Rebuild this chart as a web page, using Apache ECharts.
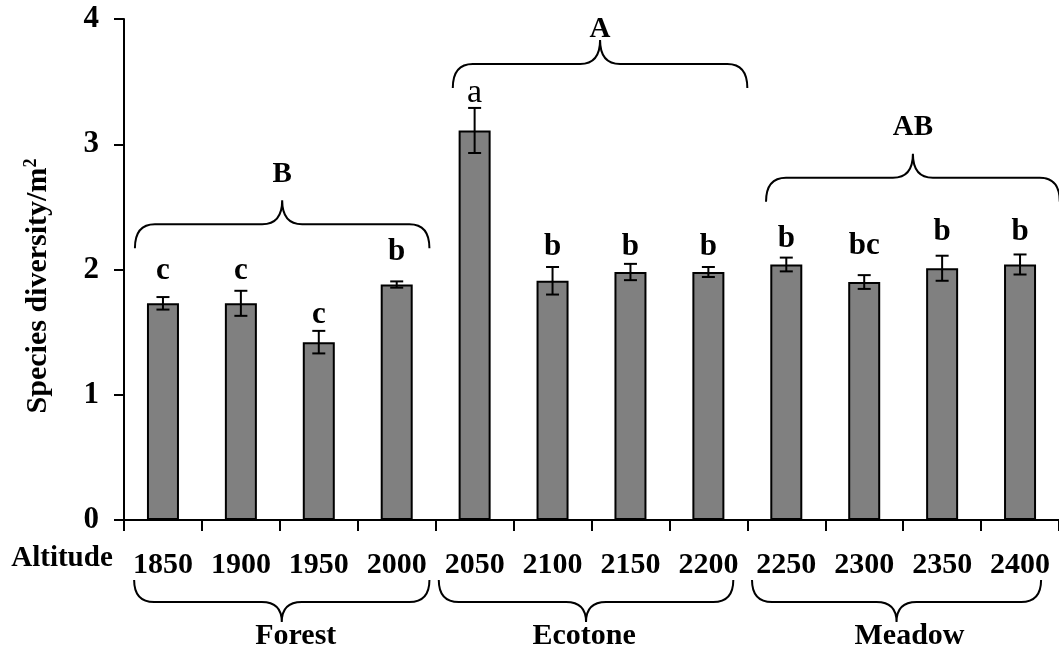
<!DOCTYPE html>
<html><head><meta charset="utf-8">
<script src="https://cdn.jsdelivr.net/npm/echarts@6/dist/echarts.min.js"></script>
<style>html,body{margin:0;padding:0;background:#fff}#c{width:1059px;height:657px}</style>
</head><body><div id="c"></div>
<script>
// ---- data ----
const altitudes = ['1850','1900','1950','2000','2050','2100','2150','2200','2250','2300','2350','2400'];
const diversity = [1.73, 1.73, 1.42, 1.88, 3.11, 1.91, 1.98, 1.98, 2.04, 1.90, 2.01, 2.04];
const stdErr    = [0.05, 0.10, 0.09, 0.025, 0.18, 0.11, 0.065, 0.04, 0.055, 0.055, 0.10, 0.08];
const letters   = ['c','c','c','b','a','b','b','b','b','bc','b','b'];
const letterY   = [1.99, 1.99, 1.64, 2.14, 3.41, 2.18, 2.18, 2.18, 2.24, 2.19, 2.30, 2.30];
const yTicks    = [0, 1, 2, 3, 4];
const zoneNames   = ['Forest', 'Ecotone', 'Meadow'];
const zoneFirst   = [0, 4, 8];
const zoneLast    = [3, 7, 11];
const zoneLetters = ['B', 'A', 'AB'];
const zoneBraceY  = [2.17, 3.45, 2.54];
const zoneLetterY = [2.76, 3.92, 3.13];

// ---- layout (not data) ----
const FONT = '"Liberation Serif","Times New Roman",serif';
const topStart = [-0.36, -0.28, -0.26], topEnd = [0.42, 0.50, 0.51];
const botStart = [-0.37, -0.46, -0.44], botEnd = [0.42, 0.32, 0.27];
const nameDx = [14, -2, 13];

function bracePath(x0, x1, yE, yL, yP, rx) {
  const xm = (x0 + x1) / 2;
  return `M${x0},${yE} Q${x0},${yL} ${x0+rx},${yL} L${xm-rx},${yL} Q${xm},${yL} ${xm},${yP} Q${xm},${yL} ${xm+rx},${yL} L${x1-rx},${yL} Q${x1},${yL} ${x1},${yE}`;
}

const chart = echarts.init(document.getElementById('c'));
chart.setOption({
  animation: false,
  backgroundColor: '#fff',
  grid: { left: 124, top: 19, width: 936, height: 501, containLabel: false },
  xAxis: {
    type: 'category', data: altitudes,
    axisLine: { lineStyle: { color: '#000', width: 2 } },
    axisTick: { show: true, length: 11, lineStyle: { color: '#000', width: 2 } },
    axisLabel: { interval: 0, color: '#000', fontFamily: FONT, fontWeight: 'bold', fontSize: 30, margin: 30 }
  },
  yAxis: {
    type: 'value', min: 0, max: 4, interval: 1,
    splitLine: { show: false },
    axisLine: { show: true, lineStyle: { color: '#000', width: 2 } },
    axisTick: { show: true, length: 10, lineStyle: { color: '#000', width: 2 } },
    axisLabel: { color: '#000', margin: 25,
      formatter: v => yTicks.includes(v) ? '{t|' + v + '}' : '',
      rich: { t: { fontFamily: FONT, fontWeight: 'bold', fontSize: 31, color: '#000' } } }
  },
  graphic: [
    { type: 'text', x: 62, y: 559, style: { text: 'Altitude', fill: '#000', font: 'bold 29px ' + FONT, textAlign: 'center', textVerticalAlign: 'middle' } },
    { type: 'text', x: 38, y: 286, rotation: Math.PI / 2,
      style: { text: '{a|Species diversity/m}{s|2}', textAlign: 'center', textVerticalAlign: 'middle', fill: '#000',
        rich: { a: { fontFamily: FONT, fontWeight: 'bold', fontSize: 30, fill: '#000', lineHeight: 32 },
                s: { fontFamily: FONT, fontWeight: 'bold', fontSize: 18, fill: '#000', verticalAlign: 'top', lineHeight: 32 } } } }
  ],
  series: [
    {
      type: 'bar', data: diversity, barWidth: 32,
      itemStyle: { color: '#808080', borderColor: '#000', borderWidth: 2 }
    },
    {
      type: 'custom', clip: false, z: 5,
      data: diversity.map((v, i) => [i, v, stdErr[i]]),
      renderItem: (params, api) => {
        const i = api.value(0), v = api.value(1), e = api.value(2);
        const hi = api.coord([i, v + e]), lo = api.coord([i, v - e]);
        const w = 6.5, st = { stroke: '#000', lineWidth: 2 };
        return { type: 'group', children: [
          { type: 'line', shape: { x1: hi[0], y1: hi[1], x2: lo[0], y2: lo[1] }, style: st },
          { type: 'line', shape: { x1: hi[0]-w, y1: hi[1], x2: hi[0]+w, y2: hi[1] }, style: st },
          { type: 'line', shape: { x1: lo[0]-w, y1: lo[1], x2: lo[0]+w, y2: lo[1] }, style: st }
        ]};
      }
    },
    {
      type: 'custom', clip: false, z: 6,
      data: letterY.map((y, i) => [i, y]),
      renderItem: (params, api) => {
        const i = api.value(0);
        const p = api.coord([i, api.value(1)]);
        const isA = letters[i] === 'a';
        return { type: 'text', x: p[0], y: p[1], style: {
          text: letters[i], fill: '#000',
          font: (isA ? 'normal 34px ' : 'bold 31px ') + FONT,
          textAlign: 'center', textVerticalAlign: 'middle' } };
      }
    },
    {
      type: 'custom', clip: false, z: 7,
      data: zoneNames.map((n, k) => [k, 0]),
      renderItem: (params, api) => {
        const k = api.value(0);
        const band = api.size([1, 0])[0];
        const xa = api.coord([zoneFirst[k], 0])[0], xb = api.coord([zoneLast[k], 0])[0];
        const y0 = api.coord([0, 0])[1];
        const st = { stroke: '#000', lineWidth: 2, fill: null };
        const tx0 = xa + topStart[k] * band, tx1 = xb + topEnd[k] * band;
        const tyE = api.coord([0, zoneBraceY[k]])[1];
        const ty = api.coord([0, zoneLetterY[k]])[1];
        const bx0 = xa + botStart[k] * band, bx1 = xb + botEnd[k] * band;
        return { type: 'group', children: [
          { type: 'path', shape: { pathData: bracePath(tx0, tx1, tyE, tyE - 24, tyE - 48, 20) }, style: st },
          { type: 'text', x: (tx0 + tx1) / 2, y: ty, style: { text: zoneLetters[k], fill: '#000', font: 'bold 29px ' + FONT, textAlign: 'center', textVerticalAlign: 'middle' } },
          { type: 'path', shape: { pathData: bracePath(bx0, bx1, y0 + 60, y0 + 82, y0 + 102, 20) }, style: st },
          { type: 'text', x: (bx0 + bx1) / 2 + nameDx[k], y: y0 + 116, style: { text: zoneNames[k], fill: '#000', font: 'bold 30px ' + FONT, textAlign: 'center', textVerticalAlign: 'middle' } }
        ]};
      }
    }
  ]
});
</script></body></html>
